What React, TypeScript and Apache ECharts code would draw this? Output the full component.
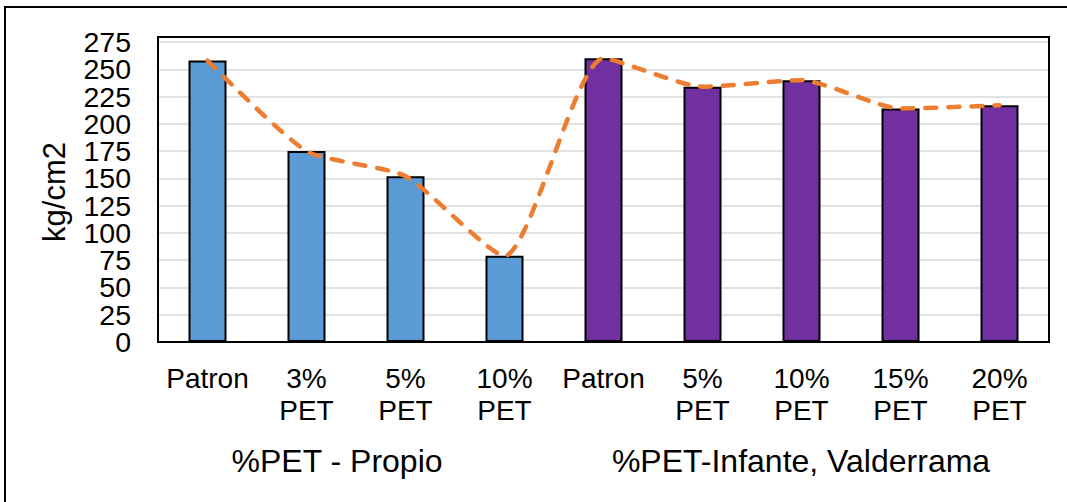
import React, { useEffect, useRef } from "react";
import * as echarts from "echarts";

const categories = ["Patron", "3%\nPET", "5%\nPET", "10%\nPET", "Patron", "5%\nPET", "10%\nPET", "15%\nPET", "20%\nPET"];
const barValues = [258, 175, 152, 79, 260, 234, 240, 214, 217];
const lineValues = [258, 175, 152, 79, 260, 234, 240, 214, 217];
const barColors = ["#5B9BD5", "#5B9BD5", "#5B9BD5", "#5B9BD5", "#7030A0", "#7030A0", "#7030A0", "#7030A0", "#7030A0"];
const groupLabels = ["%PET - Propio", "%PET-Infante, Valderrama"];
const yTicks = { min: 0, max: 275, interval: 25 };

const FONT = "'Liberation Sans', Arial, sans-serif";

const yLabelBase = {
  color: "#000",
  fontFamily: FONT,
  fontSize: 28.5,
  margin: 27,
  showMinLabel: true,
  showMaxLabel: true,
};

export default function App() {
  const ref = useRef<HTMLDivElement>(null);
  useEffect(() => {
    document.body.style.margin = "0";
    if (!ref.current) return;
    const chart = echarts.init(ref.current, null, { renderer: "svg" });
    chart.setOption({
      animation: false,
      backgroundColor: "#ffffff",
      grid: { left: 158, right: 18, top: 42, bottom: 160 },
      xAxis: {
        type: "category",
        data: categories,
        axisLine: { show: false },
        axisTick: { show: false },
        axisLabel: {
          interval: 0,
          color: "#000",
          fontFamily: FONT,
          fontSize: 28,
          lineHeight: 32,
          margin: 20,
        },
      },
      yAxis: [
        {
          type: "value",
          position: "left",
          min: yTicks.min,
          max: yTicks.max,
          interval: yTicks.interval,
          name: "kg/cm2",
          nameLocation: "middle",
          nameGap: 88,
          nameRotate: 90,
          nameTextStyle: { color: "#000", fontFamily: FONT, fontSize: 31 },
          axisLine: { show: false },
          axisTick: { show: false },
          axisLabel: {
            ...yLabelBase,
            formatter: (v: number) => (v % 50 === 0 ? String(v) : ""),
          },
          splitLine: { lineStyle: { color: "#D9D9D9", width: 1.5 } },
        },
        {
          type: "value",
          position: "left",
          offset: 0,
          min: yTicks.min,
          max: yTicks.max,
          interval: yTicks.interval,
          axisLine: { show: false },
          axisTick: { show: false },
          axisLabel: {
            ...yLabelBase,
            formatter: (v: number) => (v % 50 !== 0 ? String(v) : ""),
          },
          splitLine: { show: false },
        },
      ],
      series: [
        {
          type: "bar",
          barWidth: 38,
          yAxisIndex: 0,
          data: barValues.map((v, i) => ({
            value: v,
            itemStyle: { color: barColors[i], borderColor: "#000", borderWidth: 2 },
          })),
          z: 2,
        },
        {
          type: "line",
          yAxisIndex: 0,
          data: lineValues,
          smooth: 0.2,
          symbol: "none",
          lineStyle: { color: "#ED7D31", width: 4.5, type: [11, 12], cap: "round" },
          z: 3,
        },
      ],
      graphic: [
        {
          type: "rect",
          shape: { x: 158, y: 37, width: 891, height: 305 },
          style: { fill: "none", stroke: "#000", lineWidth: 2 },
          z: 1,
          silent: true,
        },
        {
          type: "rect",
          shape: { x: 5, y: 7, width: 1100, height: 600 },
          style: { fill: "none", stroke: "#000", lineWidth: 2 },
          silent: true,
        },
        {
          type: "text",
          x: 337,
          y: 461,
          style: { text: groupLabels[0], fill: "#000", font: `32px ${FONT}`, align: "center", verticalAlign: "middle" },
        },
        {
          type: "text",
          x: 801,
          y: 461,
          style: { text: groupLabels[1], fill: "#000", font: `32px ${FONT}`, align: "center", verticalAlign: "middle" },
        },
      ],
    });
    return () => chart.dispose();
  }, []);
  return <div ref={ref} style={{ width: 1067, height: 502 }} />;
}
